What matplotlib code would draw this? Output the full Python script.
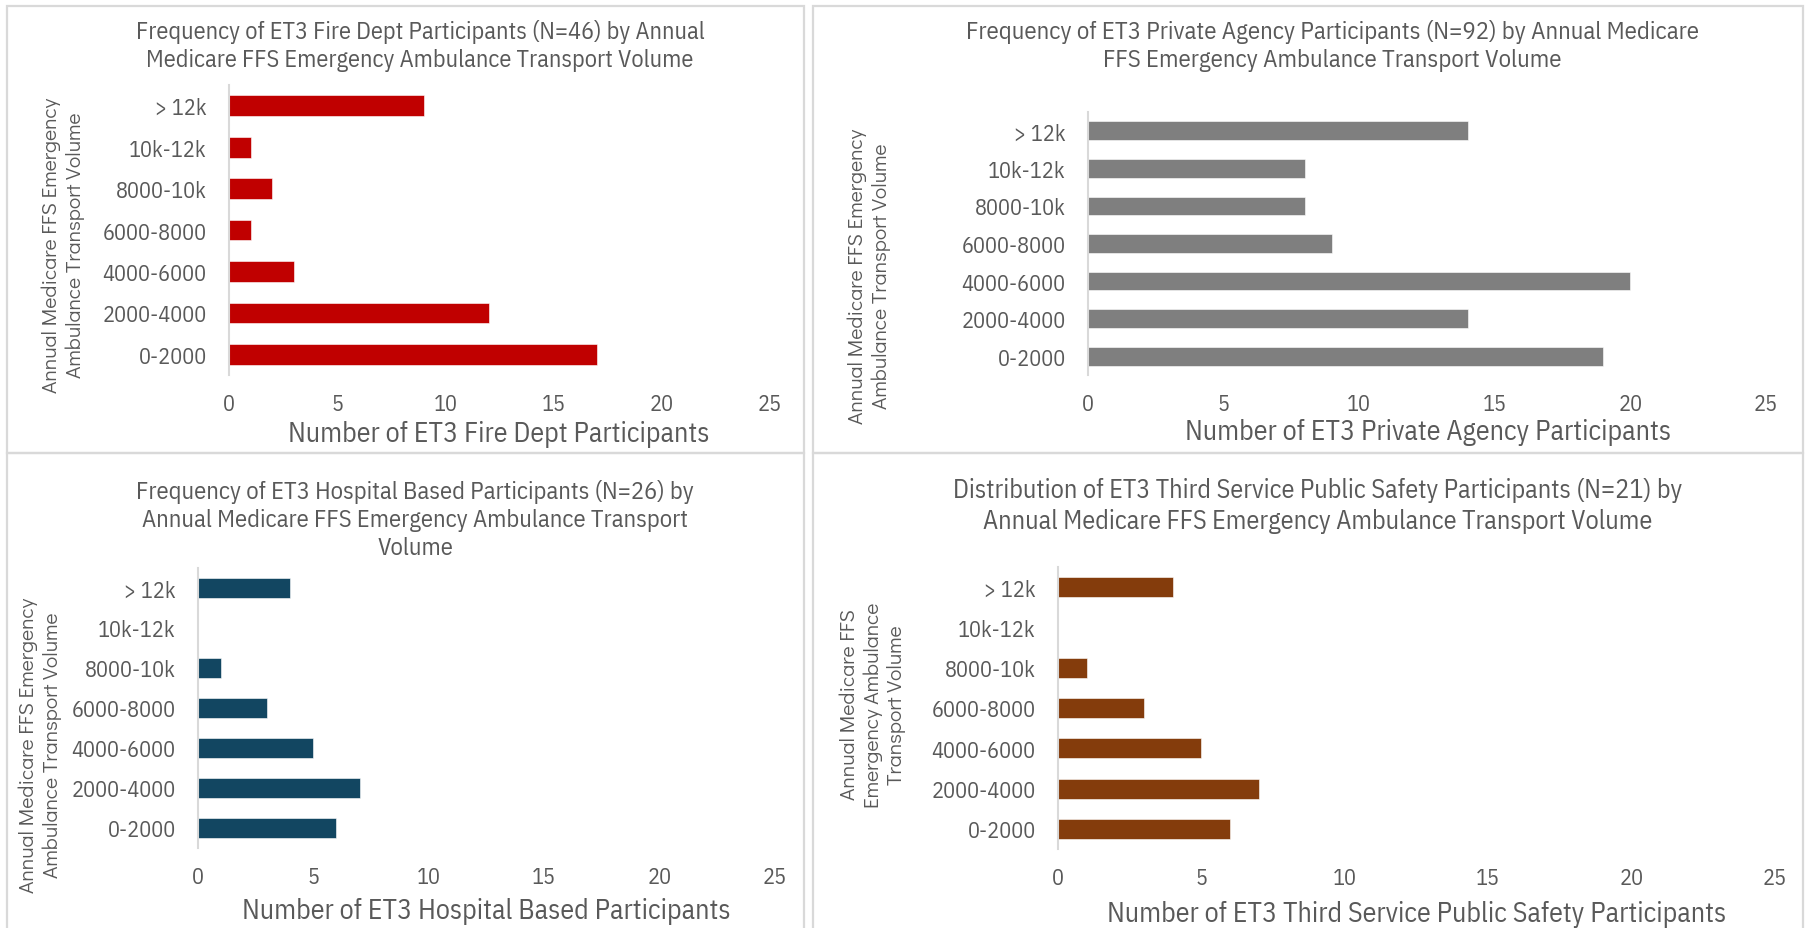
import matplotlib
matplotlib.use("Agg")
from matplotlib import pyplot as plt
from matplotlib.patches import Rectangle

# volume bins, bottom to top
categories = ["0-2000", "2000-4000", "4000-6000", "6000-8000", "8000-10k", "10k-12k", "> 12k"]

fire_dept = [17, 12, 3, 1, 2, 1, 9]
private_agency = [19, 14, 20, 9, 8, 8, 14]
hospital_based = [6, 7, 5, 3, 1, 0, 4]
third_service = [6, 7, 5, 3, 1, 0, 4]

xticks = [0, 5, 10, 15, 20, 25]

titles = [
    "Frequency of ET3 Fire Dept Participants (N=46) by Annual\nMedicare FFS Emergency Ambulance Transport Volume",
    "Frequency of ET3 Private Agency Participants (N=92) by Annual Medicare\nFFS Emergency Ambulance Transport Volume",
    "Frequency of ET3 Hospital Based Participants (N=26) by\nAnnual Medicare FFS Emergency Ambulance Transport\nVolume",
    "Distribution of ET3 Third Service Public Safety Participants (N=21) by\nAnnual Medicare FFS Emergency Ambulance Transport Volume",
]
xlabels = [
    "Number of ET3 Fire Dept Participants",
    "Number of ET3 Private Agency Participants",
    "Number of ET3 Hospital Based Participants",
    "Number of ET3 Third Service Public Safety Participants",
]
ylabels = [
    "Annual Medicare FFS Emergency\nAmbulance Transport Volume",
    "Annual Medicare FFS Emergency\nAmbulance Transport Volume",
    "Annual Medicare FFS Emergency\nAmbulance Transport Volume",
    "Annual Medicare FFS\nEmergency Ambulance\nTransport Volume",
]
series = [fire_dept, private_agency, hospital_based, third_service]
colors = ["#C00000", "#7F7F7F", "#124661", "#843C0C"]

W, H = 1805, 929
TXT = "#595959"
BORDER = "#D9D9D9"
NARROW = ["IBM Plex Sans Condensed", "Liberation Sans", "DejaVu Sans"]
WIDE = ["Didact Gothic", "Questrial", "DejaVu Sans"]

# pixel layout: (axis x0, x at 25, axis top, axis bottom)
axes_px = [(229, 770, 86, 376), (1088, 1766, 113, 376),
           (198, 775, 569, 849), (1058, 1775, 568, 850)]
title_px = [(420, 46), (1332, 46), (415, 520), (1318, 506)]
title_w = [569, 735, 557, 730]   # width of each title's first line
xlabel_px = [(499, 435), (1428, 433), (486, 912), (1417, 915)]
ylabel_px = [(63, 245), (869, 276), (40, 745), (873, 705)]
panels_px = [(7, 7, 804, 454), (813, 7, 1803, 454),
             (7, 454, 804, 940), (813, 454, 1803, 940)]

fig = plt.figure(figsize=(W / 100, H / 100), dpi=100)
fig.patch.set_facecolor("white")
renderer = fig.canvas.get_renderer()


def fit_size(text, family, width_px):
    # font size that makes a one-line string span width_px pixels
    t = fig.text(0, 0, text, fontsize=20, family=family)
    w = t.get_window_extent(renderer).width
    t.remove()
    return 20 * width_px / w


tick_fs = fit_size("6000-8000", NARROW, 104)
xlabel_fs = fit_size(xlabels[0], NARROW, 422)
ylabel_fs = fit_size("Annual Medicare FFS Emergency", WIDE, 296)

for (px0, py0, px1, py1) in panels_px:
    fig.patches.append(Rectangle((px0 / W, 1 - py1 / H), (px1 - px0) / W, (py1 - py0) / H,
                                 transform=fig.transFigure, fill=False,
                                 edgecolor=BORDER, linewidth=1.6))

for i in range(4):
    x0, x1, yt, yb = axes_px[i]
    ax = fig.add_axes([x0 / W, 1 - yb / H, (x1 - x0) / W, (yb - yt) / H])
    ax.barh(range(len(categories)), series[i], height=0.5, color=colors[i],
            edgecolor="white", linewidth=0.4)
    ax.set_xlim(0, 25)
    ax.set_ylim(-0.5, len(categories) - 0.5)
    ax.set_xticks(xticks)
    ax.set_xticklabels([str(t) for t in xticks], fontsize=tick_fs, color=TXT, family=NARROW)
    ax.set_yticks(range(len(categories)))
    ax.set_yticklabels(categories, fontsize=tick_fs, color=TXT, family=NARROW)
    ax.tick_params(axis="both", length=0)
    ax.tick_params(axis="x", pad=13)
    ax.tick_params(axis="y", pad=16)
    for s in ["top", "right", "bottom"]:
        ax.spines[s].set_visible(False)
    ax.spines["left"].set_color(BORDER)
    ax.spines["left"].set_linewidth(1.5)
    ax.set_facecolor("none")

    tx, ty = title_px[i]
    title_fs = fit_size(titles[i].split("\n")[0], NARROW, title_w[i])
    fig.text(tx / W, 1 - ty / H, titles[i], ha="center", va="center", fontsize=title_fs,
             color=TXT, family=NARROW, linespacing=1.3)
    lx, ly = xlabel_px[i]
    fig.text(lx / W, 1 - ly / H, xlabels[i], ha="center", va="center", fontsize=xlabel_fs,
             color=TXT, family=NARROW)
    yx, yy = ylabel_px[i]
    fig.text(yx / W, 1 - yy / H, ylabels[i], ha="center", va="center", fontsize=ylabel_fs,
             color=TXT, family=WIDE, rotation=90, linespacing=1.3,
             multialignment="center")

plt.savefig("out.png", dpi=100)
